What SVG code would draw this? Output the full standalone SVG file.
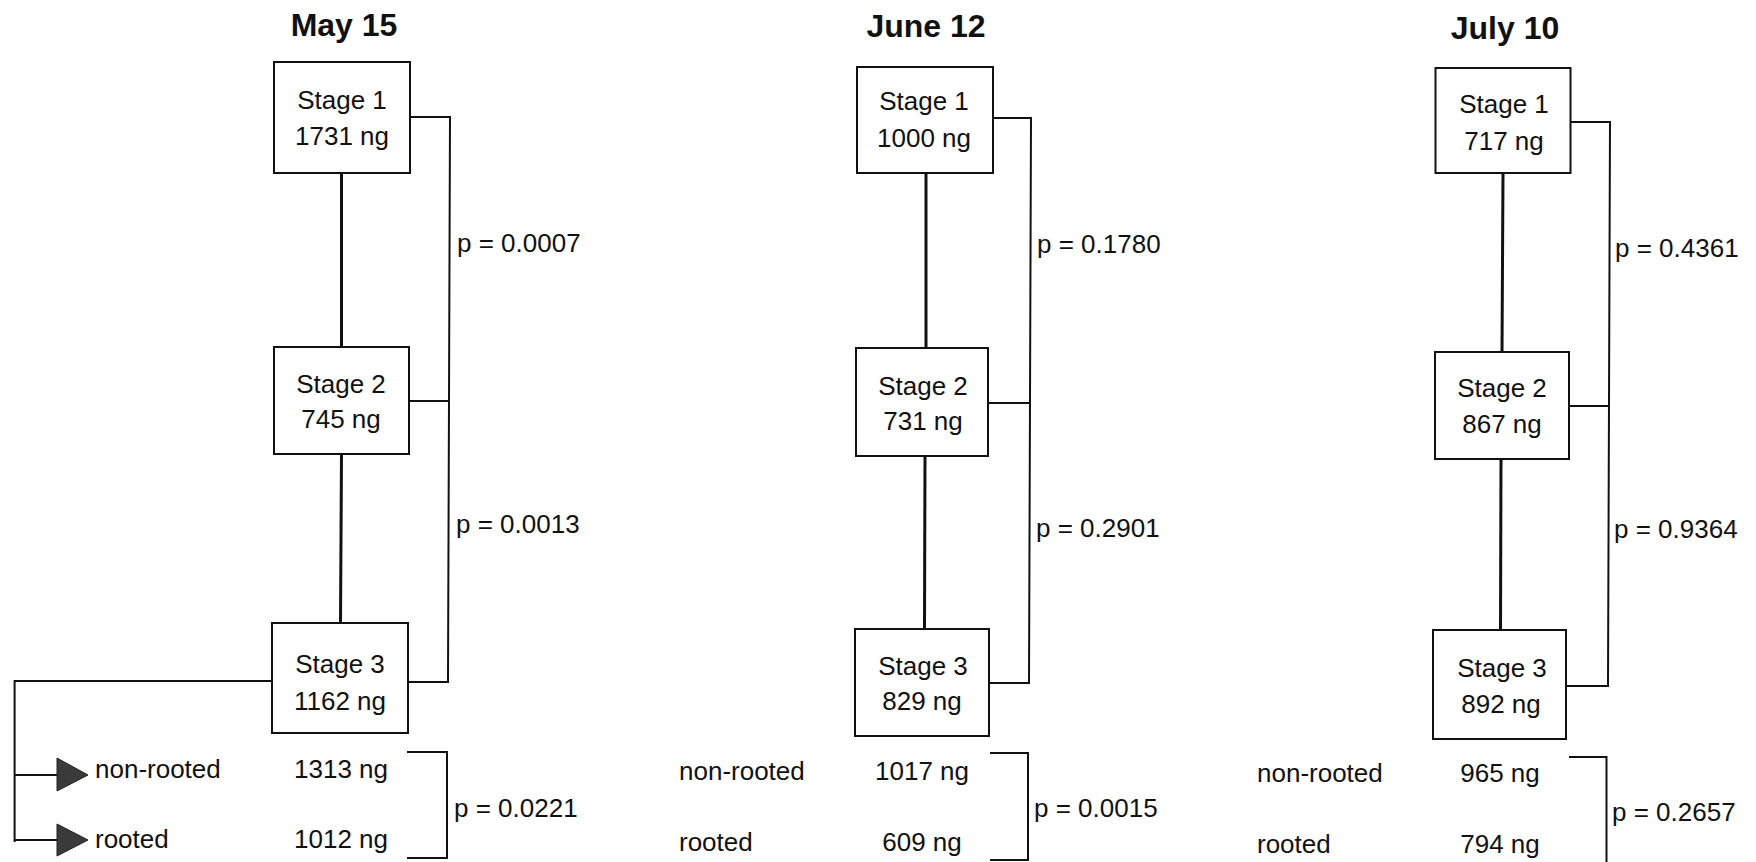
<svg xmlns="http://www.w3.org/2000/svg" width="1756" height="862" viewBox="0 0 1756 862">
<style>
  .bg{fill:#ffffff}
  .box{fill:#ffffff;stroke:#111;stroke-width:2}
  .t{font-family:"Liberation Sans",Arial,Helvetica,sans-serif;font-size:26px;fill:#111}
  .c{text-anchor:middle}
  .title{font-family:"Liberation Sans",Arial,Helvetica,sans-serif;font-size:32px;font-weight:bold;fill:#111;text-anchor:middle}
  .link{fill:none;stroke:#111;stroke-width:3}
  .br{fill:none;stroke:#111;stroke-width:2}
  .arrowhead{fill:#3a3a3a;stroke:#222;stroke-width:1}
</style>
<rect class="bg" x="0" y="0" width="1756" height="862"/>

<!-- Titles -->
<text id="title-may" class="title" x="344" y="36">May 15</text>
<text id="title-june" class="title" x="926" y="37">June 12</text>
<text id="title-july" class="title" x="1505" y="39">July 10</text>

<!-- Connectors -->
<g id="connectors">
  <!-- May 15 -->
  <line class="link" x1="341.5" y1="173" x2="341.5" y2="347"/>
  <line class="link" x1="341.5" y1="454" x2="340.5" y2="623"/>
  <polyline class="br" points="410,117 450,117 448,682 408,682"/>
  <line class="br" x1="409" y1="401" x2="449" y2="401"/>
  <polyline class="br" points="272,681 14.6,681 14.6,842"/>
  <line class="br" x1="14.6" y1="775" x2="60" y2="775"/>
  <line class="br" x1="14.6" y1="840" x2="60" y2="840"/>
  <polygon class="arrowhead" points="57,758 88,775 57,791"/>
  <polygon class="arrowhead" points="57,824 88,840 57,856"/>
  <polyline class="br" points="407,752 447,752 447,858 407,858"/>
  <!-- June 12 -->
  <line class="link" x1="926" y1="173" x2="926" y2="348"/>
  <line class="link" x1="925" y1="456" x2="924.5" y2="629"/>
  <polyline class="br" points="993,118 1031,118 1029,683 989,683"/>
  <line class="br" x1="988" y1="403" x2="1030" y2="403"/>
  <polyline class="br" points="990,753 1028,753 1028,860 990,860"/>
  <!-- July 10 -->
  <line class="link" x1="1503" y1="173" x2="1502" y2="352"/>
  <line class="link" x1="1501" y1="459" x2="1500.5" y2="630"/>
  <polyline class="br" points="1571,122 1610,122 1608,686 1566,686"/>
  <line class="br" x1="1569" y1="406" x2="1609" y2="406"/>
  <polyline class="br" points="1569,757 1606.5,757 1606.5,862"/>
</g>

<!-- May 15 nodes -->
<g id="may-stage1">
  <rect class="box" x="274" y="62" width="136" height="111"/>
  <text class="t c" x="342" y="109">Stage 1</text>
  <text class="t c" x="342" y="145">1731 ng</text>
</g>
<g id="may-stage2">
  <rect class="box" x="274" y="347" width="135" height="107"/>
  <text class="t c" x="341" y="393">Stage 2</text>
  <text class="t c" x="341" y="428">745 ng</text>
</g>
<g id="may-stage3">
  <rect class="box" x="272" y="623" width="136" height="110"/>
  <text class="t c" x="340" y="673">Stage 3</text>
  <text class="t c" x="340" y="710">1162 ng</text>
</g>
<g id="may-rooting">
  <text class="t" x="95" y="778">non-rooted</text>
  <text class="t" x="95" y="848">rooted</text>
  <text class="t c" x="341" y="778">1313 ng</text>
  <text class="t c" x="341" y="848">1012 ng</text>
</g>
<g id="may-pvalues">
  <text class="t" x="457" y="252">p = 0.0007</text>
  <text class="t" x="456" y="533">p = 0.0013</text>
  <text class="t" x="454" y="817">p = 0.0221</text>
</g>

<!-- June 12 nodes -->
<g id="june-stage1">
  <rect class="box" x="857" y="67" width="136" height="106"/>
  <text class="t c" x="924" y="110">Stage 1</text>
  <text class="t c" x="924" y="147">1000 ng</text>
</g>
<g id="june-stage2">
  <rect class="box" x="856" y="348" width="132" height="108"/>
  <text class="t c" x="923" y="395">Stage 2</text>
  <text class="t c" x="923" y="430">731 ng</text>
</g>
<g id="june-stage3">
  <rect class="box" x="855" y="629" width="134" height="107"/>
  <text class="t c" x="923" y="675">Stage 3</text>
  <text class="t c" x="922" y="710">829 ng</text>
</g>
<g id="june-rooting">
  <text class="t" x="679" y="780">non-rooted</text>
  <text class="t" x="679" y="851">rooted</text>
  <text class="t c" x="922" y="780">1017 ng</text>
  <text class="t c" x="922" y="851">609 ng</text>
</g>
<g id="june-pvalues">
  <text class="t" x="1037" y="253">p = 0.1780</text>
  <text class="t" x="1036" y="537">p = 0.2901</text>
  <text class="t" x="1034" y="817">p = 0.0015</text>
</g>

<!-- July 10 nodes -->
<g id="july-stage1">
  <rect class="box" x="1435.5" y="68" width="135" height="105"/>
  <text class="t c" x="1504" y="113">Stage 1</text>
  <text class="t c" x="1504" y="150">717 ng</text>
</g>
<g id="july-stage2">
  <rect class="box" x="1435" y="352" width="134" height="107"/>
  <text class="t c" x="1502" y="397">Stage 2</text>
  <text class="t c" x="1502" y="433">867 ng</text>
</g>
<g id="july-stage3">
  <rect class="box" x="1433" y="630" width="133" height="109"/>
  <text class="t c" x="1502" y="677">Stage 3</text>
  <text class="t c" x="1501" y="713">892 ng</text>
</g>
<g id="july-rooting">
  <text class="t" x="1257" y="782">non-rooted</text>
  <text class="t" x="1257" y="853">rooted</text>
  <text class="t c" x="1500" y="782">965 ng</text>
  <text class="t c" x="1500" y="853">794 ng</text>
</g>
<g id="july-pvalues">
  <text class="t" x="1615" y="257">p = 0.4361</text>
  <text class="t" x="1614" y="538">p = 0.9364</text>
  <text class="t" x="1612" y="821">p = 0.2657</text>
</g>
</svg>
